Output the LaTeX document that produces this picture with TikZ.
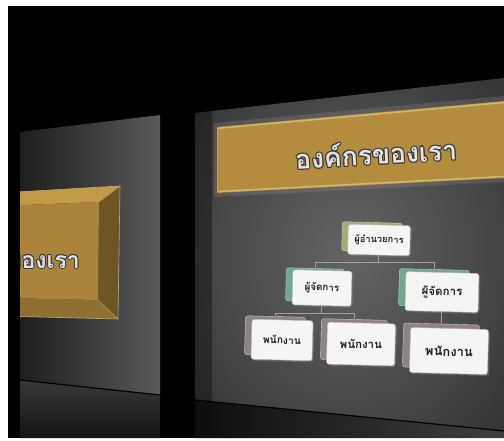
\documentclass[tikz,border=0pt]{standalone}
\usepackage{fontspec}
\newfontfamily\thaifont[Script=Thai]{Loma}
\usetikzlibrary{shadows}
\definecolor{gold}{HTML}{B48C3E}
\definecolor{goldlight}{HTML}{D2B471}
\definecolor{bevtop}{HTML}{C19B48}
\definecolor{bevface}{HTML}{A9843A}
\definecolor{bevright}{HTML}{6F5424}
\definecolor{bevbot}{HTML}{8E7030}
\definecolor{silver}{HTML}{E2E2E2}
\definecolor{outl}{HTML}{3A3A3A}
\definecolor{boxfill}{HTML}{F5F5F3}
\definecolor{textdark}{HTML}{222222}
\definecolor{olive}{HTML}{A3AC72}
\definecolor{teal}{HTML}{6FA891}
\definecolor{mauve}{HTML}{8C8389}
\definecolor{connc}{HTML}{A0A0A0}
\definecolor{pc1}{HTML}{646464}
\definecolor{pc2}{HTML}{474747}
\definecolor{pc3}{HTML}{1E1E1E}
\pgfdeclareradialshading{panelshade}{\pgfpoint{0bp}{0bp}}{color(0bp)=(pc1); color(22bp)=(pc2); color(50bp)=(pc3)}
\pgfdeclarelayer{back}
\pgfsetlayers{back,main}
\tikzset{
  titletxt/.style={font=\thaifont\bfseries\fontsize{26.5}{30}\selectfont, inner sep=0, rotate=3.3},
  lefttxt/.style={font=\thaifont\bfseries\fontsize{23}{26}\selectfont, inner sep=0, anchor=east},
  orgbox/.style={draw=gray!55, fill=boxfill, rounded corners=2.5, inner sep=0, rotate=-1.5,
    font=\thaifont\bfseries, text=textdark,
    drop shadow={opacity=0.5, shadow xshift=1.5pt, shadow yshift=-1.5pt}},
  backbox/.style={draw=gray!40, rounded corners=2.5, inner sep=0, rotate=-1.5},
  conn/.style={draw=connc, line width=0.8},
}
\begin{document}
\begin{tikzpicture}[x=1pt,y=-1pt]
\useasboundingbox (0,0) rectangle (504,441);
\begin{pgfonlayer}{back}
\fill[white] (0,0) rectangle (504,441);
\fill[black] (8,6) rectangle (504,438);
% left panel
\shade[left color=pc3, right color=pc2!90!white] (20,132) -- (160,115) -- (160,395) -- (20,380) -- cycle;
\shade[top color=black!78, bottom color=black!92] (20,380) -- (160,395) -- (160,438) -- (20,438) -- cycle;
\draw[black, line width=1.2] (20,380) -- (160,395);
\begin{scope}
  \clip (20,132) -- (160,115) -- (160,395) -- (20,380) -- cycle;
  \fill[bevtop] (0,193) -- (120,186) -- (99,202) -- (0,206) -- cycle;
  \fill[bevright] (120,186) -- (118,319) -- (98,300) -- (99,202) -- cycle;
  \fill[bevbot] (0,298) -- (98,300) -- (118,319) -- (0,316) -- cycle;
  \fill[bevface] (0,206) -- (99,202) -- (98,300) -- (0,298) -- cycle;
  \draw[goldlight!80!gray, line width=0.6] (0,193) -- (120,186) -- (118,319) -- (0,316);
  \draw[goldlight!70!bevface, line width=0.4] (120,186) -- (99,202) (118,319) -- (98,300);
  \foreach \dx/\dy [count=\k] in {-1/0,1/0,0/-1,0/1,-0.8/-0.8,0.8/0.8,-0.8/0.8,0.8/-0.8}
    \node[lefttxt, text=outl, xshift=\dx pt, yshift=\dy pt] (lto\k) at (80,258) {องค์กรของเรา};
  \node[lefttxt, text=silver] (lefttitle) at (80,258) {องค์กรของเรา};
\end{scope}
% right panel
\shade[shading=panelshade] (195,113) -- (504,78) -- (504,431) -- (195,400) -- cycle;
\shade[left color=black!95, right color=black!75] (195,400) -- (504,431) -- (504,438) -- (195,438) -- cycle;
\draw[black, line width=1.2] (195,400) -- (504,431);
\fill[black, opacity=0.35] (195,113) -- (212,111) -- (212,402) -- (195,400) -- cycle;
% banner
\fill[gray!60, opacity=0.18] (214,123) -- (504,96) -- (504,182) -- (214,197) -- cycle;
\fill[gold] (217,127) -- (504,101) -- (504,178) -- (217,193) -- cycle;
\draw[goldlight, line width=1.6] (504,102.5) -- (218,128.3);
\draw[goldlight, line width=1.6] (218,191.5) -- (504,176.5);
\draw[goldlight!60!gold, line width=1] (217.5,128.3) -- (217.5,191.5);
\foreach \dx/\dy [count=\k] in {-1.1/0,1.1/0,0/-1.1,0/1.1,-0.8/-0.8,0.8/0.8,-0.8/0.8,0.8/-0.8}
  \node[titletxt, text=outl, xshift=\dx pt, yshift=\dy pt] (tto\k) at (376,153) {องค์กรของเรา};
\node[titletxt, text=silver] (title) at (376,153) {องค์กรของเรา};
\end{pgfonlayer}
% org chart back boxes
\node[backbox, fill=olive, minimum width=60, minimum height=29] (dirb) at (372,237) {};
\node[backbox, fill=teal, minimum width=58, minimum height=33] (m1b) at (315,285) {};
\node[backbox, fill=teal, minimum width=70, minimum height=37] (m2b) at (434,288) {};
\node[backbox, fill=mauve, minimum width=60, minimum height=39] (e1b) at (275,336) {};
\node[backbox, fill=mauve, minimum width=66, minimum height=41] (e2b) at (354,340) {};
\node[backbox, fill=mauve, minimum width=76, minimum height=44] (e3b) at (441,346) {};
% org chart front boxes
\node[orgbox, minimum width=62, minimum height=30, font=\thaifont\bfseries\fontsize{9.3}{11}\selectfont] (dir) at (379,240) {ผู้อำนวยการ};
\node[orgbox, minimum width=59, minimum height=35, font=\thaifont\bfseries\fontsize{9.8}{11}\selectfont] (m1) at (322,288) {ผู้จัดการ};
\node[orgbox, minimum width=73, minimum height=39, font=\thaifont\bfseries\fontsize{11.5}{13}\selectfont] (m2) at (442,292) {ผู้จัดการ};
\node[orgbox, minimum width=61, minimum height=40, font=\thaifont\bfseries\fontsize{10.3}{12}\selectfont] (e1) at (282,340) {พนักงาน};
\node[orgbox, minimum width=68, minimum height=42, font=\thaifont\bfseries\fontsize{11.5}{13}\selectfont] (e2) at (361,344) {พนักงาน};
\node[orgbox, minimum width=78, minimum height=45, font=\thaifont\bfseries\fontsize{13}{15}\selectfont] (e3) at (449,351) {พนักงาน};
% connectors
\begin{pgfonlayer}{back}
\draw[conn] (dir.south) -- ++(0,7) coordinate (j0);
\draw[conn] (m1b.north) |- (j0) -| (m2b.north);
\draw[conn] (m1.south) -- ++(0,8) coordinate (j1);
\draw[conn] (e1b.north) |- (j1) -| (e2b.north);
\draw[conn] (m2.south) -- (m2.south |- e3b.north);
\end{pgfonlayer}
\end{tikzpicture}
\end{document}
